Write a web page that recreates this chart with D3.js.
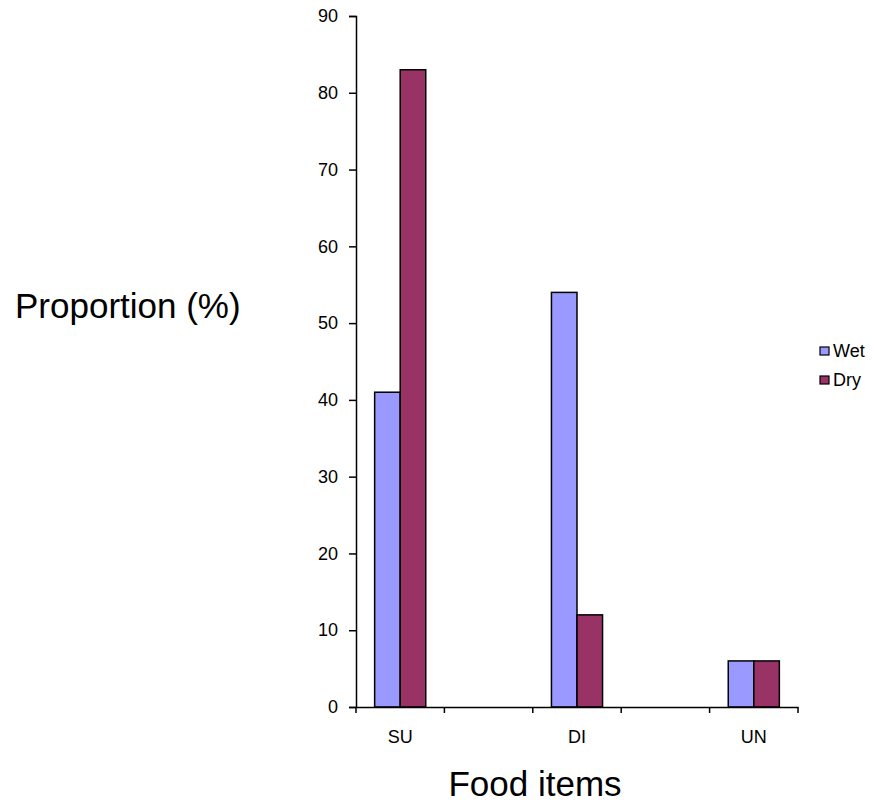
<!DOCTYPE html>
<html>
<head>
<meta charset="utf-8">
<script src="https://cdn.jsdelivr.net/npm/d3@7"></script>
<style>
  html, body { margin: 0; padding: 0; background: #fff; }
  svg { display: block; font-family: "Liberation Sans", Arial, sans-serif; }
</style>
</head>
<body>
<svg id="chart" width="874" height="803"></svg>
<script>
// Food item categories (blank slots keep the wide spacing between groups)
const categories = ["SU", "", "DI", "", "UN"];
const seriesNames = ["Wet", "Dry"];
const wetValues = [41, null, 54, null, 6];
const dryValues = [83, null, 12, null, 6];
const yTicks = [0, 10, 20, 30, 40, 50, 60, 70, 80, 90];
const colors = ["#9999FF", "#993366"];

const svg = d3.select("#chart");
const plot = { left: 356, right: 798, top: 16, bottom: 707 };

const x = d3.scaleBand()
  .domain(d3.range(categories.length))
  .range([plot.left, plot.right])
  .paddingInner(0)
  .paddingOuter(0);

const inner = d3.scaleBand()
  .domain(seriesNames)
  .range([0, x.bandwidth()])
  .paddingInner(0)
  .paddingOuter(0.73);

const y = d3.scaleLinear().domain([0, 90]).range([plot.bottom, plot.top]);

// Bars
const rows = categories.map((c, i) => ({ i, values: [wetValues[i], dryValues[i]] }));
const groups = svg.append("g").selectAll("g")
  .data(rows)
  .join("g")
  .attr("transform", d => `translate(${x(d.i)},0)`);

groups.selectAll("rect")
  .data(d => d.values.map((v, k) => ({ name: seriesNames[k], v, k })).filter(e => e.v != null))
  .join("rect")
  .attr("x", e => inner(e.name))
  .attr("width", inner.bandwidth())
  .attr("y", e => y(e.v))
  .attr("height", e => y(0) - y(e.v))
  .attr("fill", e => colors[e.k])
  .attr("stroke", "#000")
  .attr("stroke-width", 1.5);

// Y axis
const yAxis = svg.append("g")
  .attr("transform", `translate(${plot.left},0)`)
  .call(d3.axisLeft(y).tickValues(yTicks).tickSize(7).tickPadding(11));
yAxis.select(".domain").attr("stroke", "#000").attr("stroke-width", 1.5);
yAxis.selectAll(".tick line").attr("stroke", "#000").attr("stroke-width", 1.5);
yAxis.selectAll(".tick text").attr("font-size", 18).attr("fill", "#000")
  .attr("font-family", "Liberation Sans, Arial, sans-serif");

// X axis: ticks sit between categories
const xAxis = svg.append("g")
  .attr("transform", `translate(0,${plot.bottom})`)
  .call(d3.axisBottom(x).tickFormat(i => categories[i]).tickSize(0).tickPadding(23));
xAxis.select(".domain").attr("stroke", "#000").attr("stroke-width", 1.5);
xAxis.selectAll(".tick text").attr("font-size", 18).attr("fill", "#000")
  .attr("font-family", "Liberation Sans, Arial, sans-serif");
const boundaries = d3.range(categories.length + 1).map(i => plot.left + i * x.step());
xAxis.selectAll("line.sep")
  .data(boundaries)
  .join("line")
  .attr("class", "sep")
  .attr("x1", d => d).attr("x2", d => d)
  .attr("y1", 0).attr("y2", 6)
  .attr("stroke", "#000").attr("stroke-width", 1.5);

// Axis titles
svg.append("text")
  .attr("x", 15).attr("y", 318)
  .attr("font-size", 35)
  .attr("fill", "#000")
  .text("Proportion (%)");

svg.append("text")
  .attr("x", 535).attr("y", 796)
  .attr("text-anchor", "middle")
  .attr("font-size", 35)
  .attr("fill", "#000")
  .text("Food items");

// Legend
const legend = svg.append("g").attr("transform", "translate(820,347)");
const li = legend.selectAll("g")
  .data(seriesNames)
  .join("g")
  .attr("transform", (d, i) => `translate(0,${i * 29})`);
li.append("rect")
  .attr("width", 9).attr("height", 8)
  .attr("fill", (d, i) => colors[i])
  .attr("stroke", "#000").attr("stroke-width", 1.2);
li.append("text")
  .attr("x", 13).attr("y", 10)
  .attr("font-size", 18)
  .attr("fill", "#000")
  .text(d => d);
</script>
</body>
</html>
